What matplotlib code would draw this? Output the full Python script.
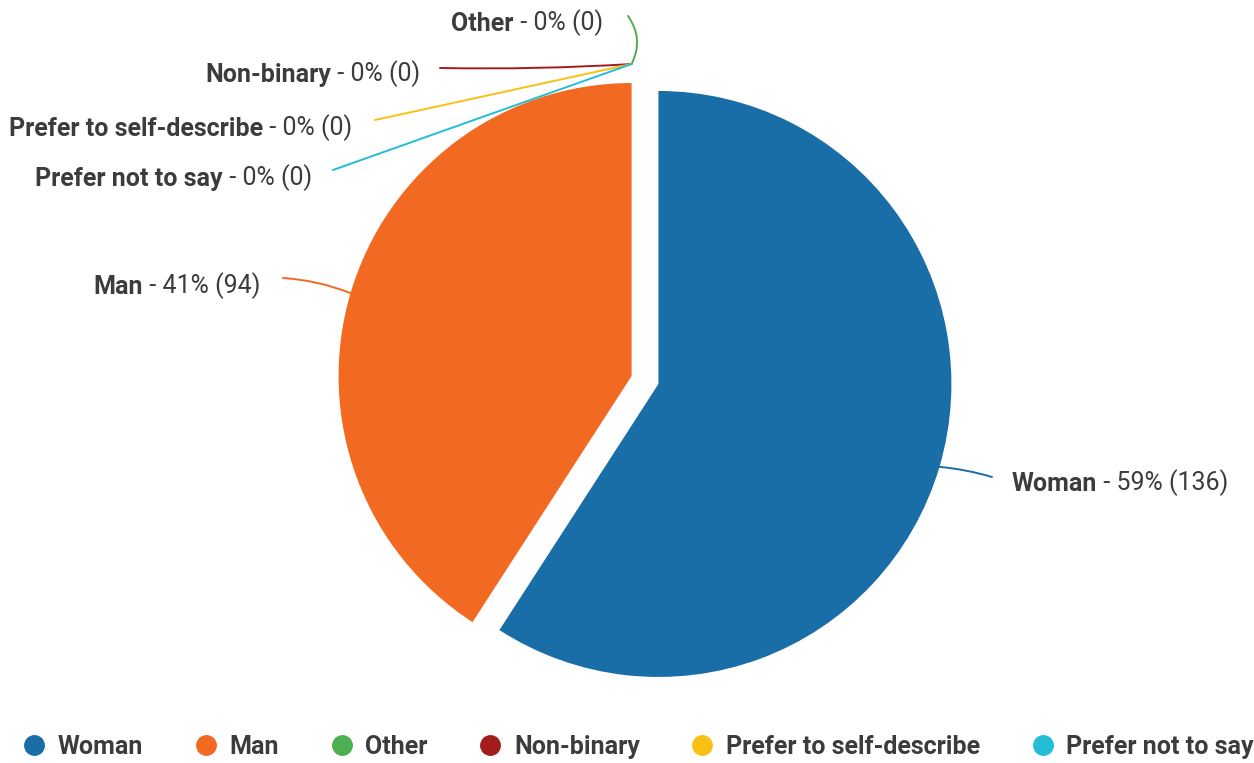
import matplotlib
matplotlib.use("Agg")
import matplotlib.pyplot as plt
from matplotlib.lines import Line2D
import numpy as np

# ---- data ----
categories = ["Woman", "Man", "Other", "Non-binary", "Prefer to self-describe", "Prefer not to say"]
counts = [136, 94, 0, 0, 0, 0]
colors = ["#1a6ea8", "#f26a21", "#4caf50", "#a31c1c", "#f9c114", "#23bed6"]

# ---- layout (pixel positions, y measured from top) ----
W, H = 1254, 763
PIE_CENTER = (645, 380)
PIE_R = 293
SLICE_GAP = 14
label_pos = {
    "Woman": (1012, 484, "left"),
    "Man": (260, 286, "right"),
    "Other": (603, 23, "right"),
    "Non-binary": (420, 74, "right"),
    "Prefer to self-describe": (352, 128, "right"),
    "Prefer not to say": (312, 178, "right"),
}
conn_end = {
    "Woman": (992, 477),
    "Man": (283, 278),
    "Other": (628, 16),
    "Non-binary": (440, 68),
    "Prefer to self-describe": (375, 120),
    "Prefer not to say": (333, 170),
}
conn_rad = {
    "Woman": 0.05, "Man": -0.08, "Other": -0.3,
    "Non-binary": 0.02, "Prefer to self-describe": 0.0, "Prefer not to say": 0.0,
}
TEXT_COLOR = "#3c3c3c"
FONT = "Roboto"
FS = 18


def py(y):
    return H - y


fig = plt.figure(figsize=(W / 100, H / 100), dpi=100)
ax = fig.add_axes([0, 0, 1, 1])

# matplotlib's explode offset is in data units
explode = [SLICE_GAP if c > 0 else 0 for c in counts]
wedges, _ = ax.pie(counts, colors=colors, startangle=90, counterclock=False,
                   center=(PIE_CENTER[0], py(PIE_CENTER[1])), radius=PIE_R,
                   explode=explode, wedgeprops=dict(linewidth=0))
ax.set_xlim(0, W)
ax.set_ylim(0, H)
ax.set_aspect("equal")
ax.axis("off")

total = sum(counts)
last_nonzero = None
for cat, cnt, col, w in zip(categories, counts, colors, wedges):
    mid = np.deg2rad((w.theta1 + w.theta2) / 2)
    if cnt > 0:
        last_nonzero = w
        cx, cy = w.center
        extra = 0
    else:
        cx, cy = last_nonzero.center
        extra = 19
    ax_pt = (cx + (w.r + extra) * np.cos(mid), cy + (w.r + extra) * np.sin(mid))
    ex, ey = conn_end[cat]
    ax.annotate("", xy=ax_pt, xytext=(ex, py(ey)),
                arrowprops=dict(arrowstyle="-", color=col, lw=1.4,
                                shrinkA=0, shrinkB=0,
                                connectionstyle=f"arc3,rad={conn_rad[cat]}"))
    pct = round(100 * cnt / total)
    rest = f" - {pct}% ({cnt})"
    lx, ly, ha = label_pos[cat]
    if ha == "left":
        t1 = ax.text(lx, py(ly), cat, ha="left", va="center", fontsize=FS,
                     family=FONT, weight="bold", color=TEXT_COLOR)
        ax.annotate(rest, xy=(1, 0), xycoords=t1, ha="left", va="bottom",
                    fontsize=FS, family=FONT, color=TEXT_COLOR)
    else:
        t2 = ax.text(lx, py(ly), rest, ha="right", va="center", fontsize=FS,
                     family=FONT, color=TEXT_COLOR)
        ax.annotate(cat, xy=(0, 0), xycoords=t2, ha="right", va="bottom",
                    fontsize=FS, family=FONT, weight="bold", color=TEXT_COLOR)

handles = [Line2D([], [], ls="", marker="o", markersize=14,
                  markerfacecolor=c, markeredgecolor=c) for c in colors]
fig.legend(handles, categories, loc="center", bbox_to_anchor=(639 / W, 16 / H),
           ncol=6, frameon=False, handlelength=0.8, handletextpad=0.55,
           columnspacing=2.1, labelcolor=TEXT_COLOR,
           prop=dict(family=FONT, weight="bold", size=FS))

fig.savefig("out.png", dpi=100)
